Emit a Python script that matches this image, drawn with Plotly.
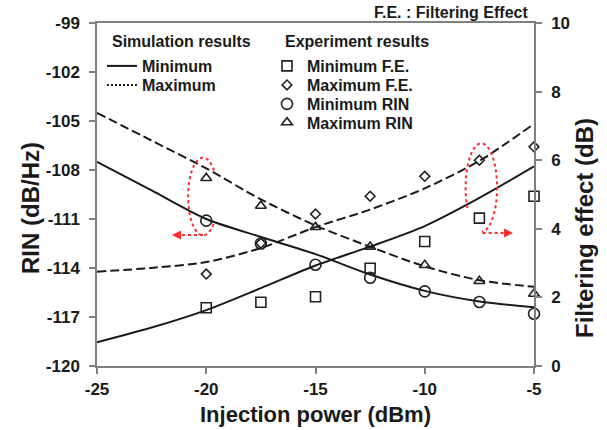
import numpy as np
import plotly.graph_objects as go

# ---------------- data ----------------
x_sim = [-25, -22.5, -20, -17.5, -15, -12.5, -10, -7.5, -5]
rin_min_sim = [-107.5, -109.25, -111.0, -112.1, -113.15, -114.4, -115.4, -116.05, -116.4]
rin_max_sim = [-104.5, -106.2, -107.9, -109.8, -111.4, -112.7, -113.9, -114.75, -115.15]
fe_min_sim = [0.69, 1.12, 1.63, 2.27, 2.93, 3.48, 4.08, 4.9, 5.82]
fe_max_sim = [2.75, 2.86, 3.03, 3.44, 4.05, 4.56, 5.18, 5.98, 7.06]

x_exp = [-20, -17.5, -15, -12.5, -10, -7.5, -5]
fe_min_exp = [1.70, 1.86, 2.02, 2.85, 3.63, 4.31, 4.95]
fe_max_exp = [2.68, 3.58, 4.43, 4.95, 5.53, 6.0, 6.39]
rin_min_exp = [-111.1, -112.5, -113.8, -114.6, -115.43, -116.08, -116.8]
rin_max_exp = [-108.5, -110.2, -111.5, -112.7, -113.82, -114.8, -115.58]

x_ticks = [-25, -20, -15, -10, -5]
x_ticktext = ["-25", "-20", "-15", "-10", "-5"]
rin_ticks = [-99, -102, -105, -108, -111, -114, -117, -120]
rin_ticktext = ["-99", "-102", "-105", "-108", "-111", "-114", "-117", "-120"]
fe_ticks = [0, 2, 4, 6, 8, 10]
fe_ticktext = ["0", "2", "4", "6", "8", "10"]

# ---------------- style ----------------
FONT = "Liberation Sans, Arial, sans-serif"
AX = "#808080"
INK = "#1a1a1a"
MK = "#222222"
RED = "#ff2a2a"
DASH = "9px,4px"

W, H = 607, 430
L, R, T, B = 97, 73, 23, 64
PW, PH = W - L - R, H - T - B


def px2paper(px, py):
    return (px - L) / PW, (H - B - py) / PH


fig = go.Figure()

# simulation curves
fig.add_trace(go.Scatter(x=x_sim, y=rin_min_sim, mode="lines", yaxis="y",
                         line=dict(color=INK, width=2, shape="spline", smoothing=0.8),
                         name="Minimum", legend="legend", showlegend=True))
fig.add_trace(go.Scatter(x=x_sim, y=fe_min_sim, mode="lines", yaxis="y2",
                         line=dict(color=INK, width=2, shape="spline", smoothing=0.8),
                         showlegend=False))
fig.add_trace(go.Scatter(x=x_sim, y=rin_max_sim, mode="lines", yaxis="y",
                         line=dict(color=INK, width=2, dash=DASH, shape="spline", smoothing=0.8),
                         showlegend=False))
fig.add_trace(go.Scatter(x=x_sim, y=fe_max_sim, mode="lines", yaxis="y2",
                         line=dict(color=INK, width=2, dash=DASH, shape="spline", smoothing=0.8),
                         showlegend=False))
# legend-only entry for the dotted "Maximum" key
fig.add_trace(go.Scatter(x=[None], y=[None], mode="lines", yaxis="y",
                         line=dict(color=INK, width=2, dash="2px,2px"),
                         name="Maximum", legend="legend2", showlegend=True))

# experiment markers
mk = dict(color=MK, line=dict(color=MK, width=1.6))
fig.add_trace(go.Scatter(x=x_exp, y=fe_min_exp, mode="markers", yaxis="y2", cliponaxis=False,
                         marker=dict(symbol="square-open", size=10, **mk),
                         name="Minimum F.E.", legend="legend3"))
fig.add_trace(go.Scatter(x=x_exp, y=fe_max_exp, mode="markers", yaxis="y2", cliponaxis=False,
                         marker=dict(symbol="diamond-open", size=7.5, **mk),
                         name="Maximum F.E.", legend="legend4"))
fig.add_trace(go.Scatter(x=x_exp, y=rin_min_exp, mode="markers", yaxis="y", cliponaxis=False,
                         marker=dict(symbol="circle-open", size=11, **mk),
                         name="Minimum RIN", legend="legend5"))
fig.add_trace(go.Scatter(x=x_exp, y=rin_max_exp, mode="markers", yaxis="y", cliponaxis=False,
                         marker=dict(symbol="triangle-up-open", size=9.5, **mk),
                         name="Maximum RIN", legend="legend6"))

# legends (one per entry so the spacing matches)
leg_font = dict(family=FONT, size=16, color=INK, weight="bold")


def leg(px, py):
    x, y = px2paper(px, py)
    return dict(x=x, y=y, xanchor="left", yanchor="middle", bgcolor="rgba(0,0,0,0)",
                borderwidth=0, font=leg_font, itemwidth=30, tracegroupgap=0)


legends = {
    "legend": leg(102, 66),
    "legend2": leg(102, 85),
    "legend3": leg(267, 66),
    "legend4": leg(267, 85),
    "legend5": leg(267, 104),
    "legend6": leg(267, 122.5),
}


# dotted red ellipses (arcs) and arrows, in data coordinates of x / left axis
def arc_path(cx, cy, rx, ry, a0, a1, n=60):
    a = np.radians(np.linspace(a0, a1, n))
    xs = cx + rx * np.cos(a)
    ys = cy - ry * np.sin(a)  # screen-angle convention (y down)
    return "M " + " L ".join(f"{x:.4f},{y:.4f}" for x, y in zip(xs, ys))


shapes = [
    dict(type="path", xref="x", yref="y",
         path=arc_path(-20.15, -109.62, 0.68, 2.38, 45, 318),
         line=dict(color=RED, width=2, dash="dot")),
    dict(type="path", xref="x", yref="y",
         path=arc_path(-7.41, -109.07, 0.72, 2.7, 152, 448),
         line=dict(color=RED, width=2, dash="dot")),
    dict(type="line", xref="x", yref="y", x0=-20.15, y0=-111.98, x1=-21.35, y1=-111.98,
         line=dict(color=RED, width=2, dash="dot")),
    dict(type="line", xref="x", yref="y", x0=-7.35, y0=-111.86, x1=-6.2, y1=-111.86,
         line=dict(color=RED, width=2, dash="dot")),
]

ann_font = dict(family=FONT, color=INK, weight="bold")
annotations = []
for txt, px, py in [("Simulation results", 110, 41), ("Experiment results", 283, 41)]:
    x, y = px2paper(px, py)
    annotations.append(dict(text=txt, x=x, y=y, xref="paper", yref="paper",
                            xanchor="left", yanchor="middle", showarrow=False,
                            font=dict(size=16, **ann_font)))
x, y = px2paper(530, 13)
annotations.append(dict(text="F.E. : Filtering Effect", x=x, y=y, xref="paper", yref="paper",
                        xanchor="right", yanchor="middle", showarrow=False,
                        font=dict(size=16, **ann_font)))
x, y = px2paper(30, 208)
annotations.append(dict(text="RIN (dB/Hz)", x=x, y=y, xref="paper", yref="paper",
                        xanchor="center", yanchor="middle", textangle=-90, showarrow=False,
                        font=dict(size=24, **ann_font)))
x, y = px2paper(584, 228)
annotations.append(dict(text="Filtering effect (dB)", x=x, y=y, xref="paper", yref="paper",
                        xanchor="center", yanchor="middle", textangle=-90, showarrow=False,
                        font=dict(size=24, **ann_font)))
x, y = px2paper(315.5, 414)
annotations.append(dict(text="Injection power (dBm)", x=x, y=y, xref="paper", yref="paper",
                        xanchor="center", yanchor="middle", showarrow=False,
                        font=dict(size=22, **ann_font)))
# arrowheads
annotations.append(dict(x=-21.57, y=-111.98, xref="x", yref="y", ax=9, ay=0, text="",
                        showarrow=True, arrowhead=2, arrowsize=1, arrowwidth=1.8, arrowcolor=RED))
annotations.append(dict(x=-5.96, y=-111.86, xref="x", yref="y", ax=-9, ay=0, text="",
                        showarrow=True, arrowhead=2, arrowsize=1, arrowwidth=1.8, arrowcolor=RED))

tick_font = dict(family=FONT, size=17, color=INK, weight="bold")
axis_common = dict(showgrid=False, zeroline=False, showline=True, linecolor=AX, linewidth=1.5,
                   ticks="outside", ticklen=6, tickwidth=1.5, tickcolor=AX, tickfont=tick_font)

fig.update_layout(
    width=W, height=H,
    margin=dict(l=L, r=R, t=T, b=B, pad=0),
    paper_bgcolor="white", plot_bgcolor="white",
    xaxis=dict(range=[-25, -5], tickvals=x_ticks, ticktext=x_ticktext, mirror=True,
               ticklabelstandoff=1, **axis_common),
    yaxis=dict(range=[-120, -99], tickvals=rin_ticks, ticktext=rin_ticktext,
               ticklabelstandoff=6, **axis_common),
    yaxis2=dict(range=[0, 10], tickvals=fe_ticks, ticktext=fe_ticktext, overlaying="y",
                side="right", ticklabelstandoff=6, **axis_common),
    shapes=shapes,
    annotations=annotations,
    **legends,
)

fig.write_html("out.html")
